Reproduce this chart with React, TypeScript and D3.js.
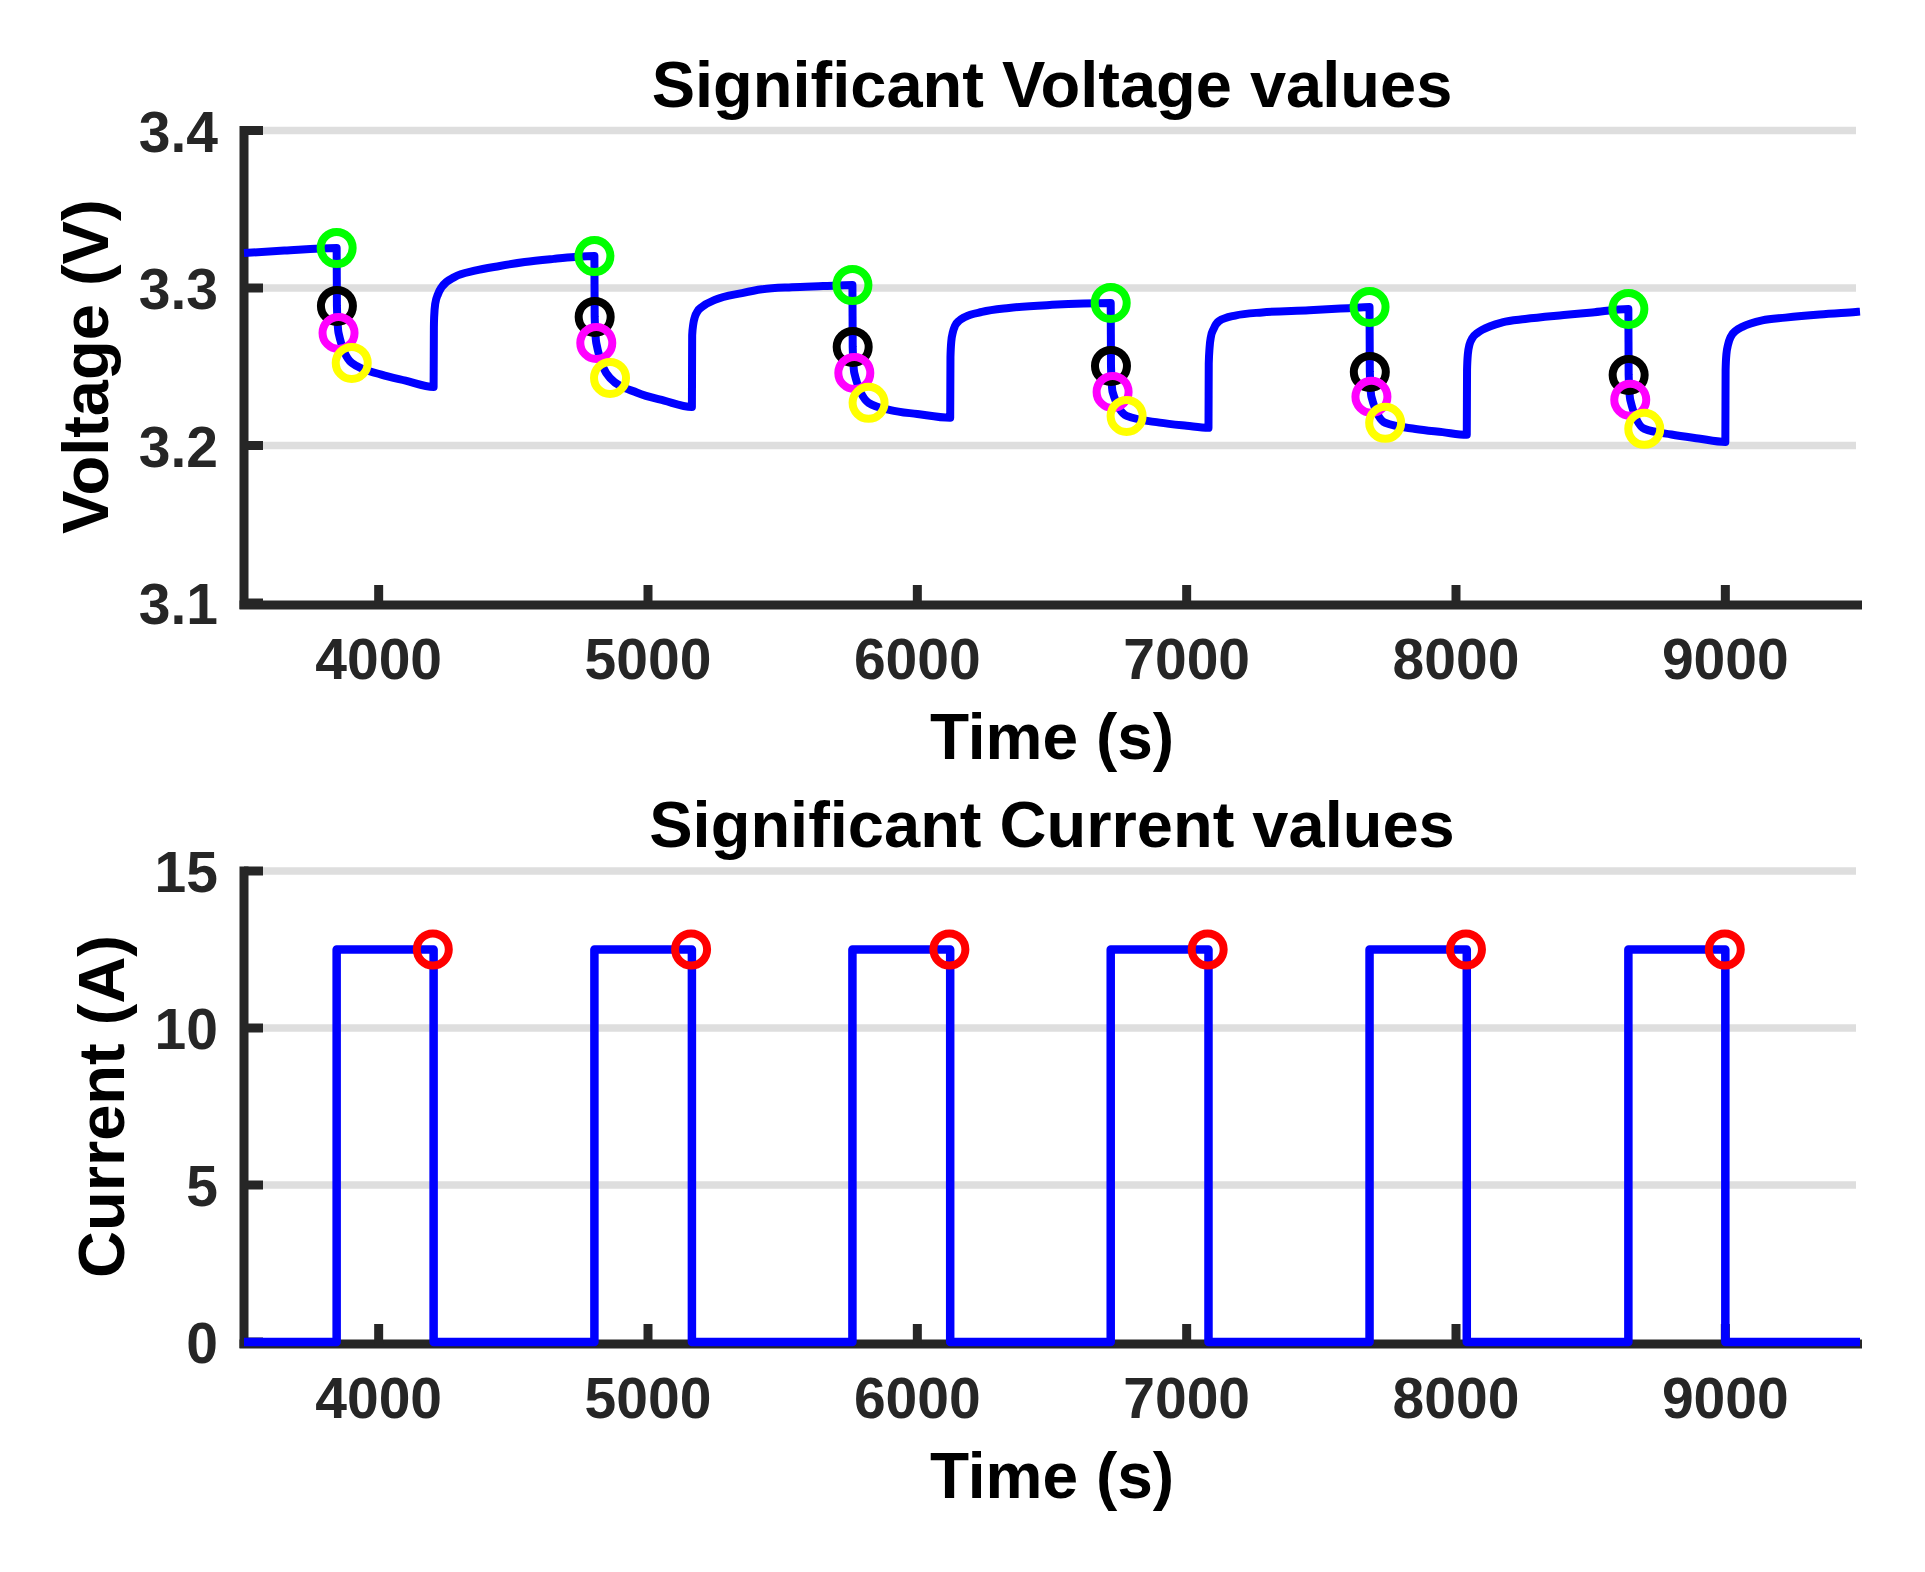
import React from "react";
import * as d3 from "d3";

// ---------- data ----------
const timeTicks = [4000, 5000, 6000, 7000, 8000, 9000];
const voltageTicks = [3.1, 3.2, 3.3, 3.4];
const currentTicks = [0, 5, 10, 15];

// voltage trace (time s, voltage V)
const voltageTime = [
  3500, 3650, 3844, 3845, 3851, 3900, 4010, 4100, 4204,
  4205, 4206, 4210, 4220, 4234, 4282, 4357, 4450, 4542, 4650, 4728, 4801,
  4802, 4808, 4859, 4960, 5060, 5163,
  5164, 5168, 5174, 5185, 5200, 5248, 5349, 5423, 5534, 5650, 5759,
  5760, 5766, 5819, 5900, 6000, 6122,
  6123, 6126, 6132, 6140, 6155, 6177, 6240, 6340, 6500, 6718,
  6719, 6725, 6777, 6900, 7000, 7081,
  7082, 7085, 7090, 7100, 7120, 7180, 7280, 7455, 7600, 7679,
  7680, 7686, 7737, 7850, 7950, 8040,
  8041, 8044, 8050, 8060, 8080, 8097, 8172, 8257, 8400, 8506, 8640,
  8641, 8647, 8699, 8800, 8900, 9000,
  9001, 9004, 9010, 9020, 9040, 9063, 9137, 9223, 9350, 9484, 9500,
];
const voltageValue = [
  3.3222, 3.3238, 3.3254, 3.2886, 3.2715, 3.2524, 3.245, 3.2412, 3.2372,
  3.275, 3.2816, 3.29, 3.296, 3.3006, 3.307, 3.311, 3.314, 3.3165, 3.3185, 3.3197, 3.3203,
  3.2816, 3.2651, 3.2429, 3.2335, 3.2285, 3.2245,
  3.27, 3.277, 3.2816, 3.2855, 3.288, 3.2924, 3.2968, 3.2992, 3.3005, 3.3012, 3.3019,
  3.2626, 3.2461, 3.2271, 3.2225, 3.22, 3.2176,
  3.256, 3.266, 3.272, 3.276, 3.2792, 3.2816, 3.2848, 3.2873, 3.2893, 3.2905,
  3.2505, 3.234, 3.2188, 3.2145, 3.2125, 3.2112,
  3.252, 3.262, 3.269, 3.274, 3.279, 3.2825, 3.2845, 3.2858, 3.2872, 3.288,
  3.2467, 3.2309, 3.2144, 3.2105, 3.2085, 3.2068,
  3.248, 3.258, 3.264, 3.268, 3.2715, 3.2734, 3.2782, 3.2803, 3.2828, 3.2845, 3.2867,
  3.2448, 3.229, 3.2106, 3.207, 3.2045, 3.2023,
  3.248, 3.258, 3.264, 3.269, 3.273, 3.2753, 3.2795, 3.2812, 3.2832, 3.2848, 3.285,
];

// significant voltage points
const greenTime = [3844, 4801, 5759, 6718, 7679, 8640];
const greenValue = [3.3254, 3.3203, 3.3019, 3.2905, 3.288, 3.2867];
const blackTime = [3845, 4802, 5760, 6719, 7680, 8641];
const blackValue = [3.2886, 3.2816, 3.2626, 3.2505, 3.2467, 3.2448];
const magentaTime = [3851, 4808, 5766, 6725, 7686, 8647];
const magentaValue = [3.2715, 3.2651, 3.2461, 3.234, 3.2309, 3.229];
const yellowTime = [3900, 4859, 5819, 6777, 7737, 8699];
const yellowValue = [3.2524, 3.2429, 3.2271, 3.2188, 3.2144, 3.2106];

// current pulses
const pulseStart = [3844, 4801, 5759, 6718, 7679, 8640];
const pulseEnd = [4204, 5163, 6122, 7081, 8040, 9000];
const pulseCurrent = [12.5, 12.5, 12.5, 12.5, 12.5, 12.5];
const redTime = [4201, 5160, 6119, 7078, 8037, 8998];
const redValue = [12.5, 12.5, 12.5, 12.5, 12.5, 12.5];

// ---------- layout ----------
const W = 1925;
const H = 1572;
const left = 244;
const right = 1860;
const top1 = 130.5;
const bottom1 = 603;
const top2 = 871;
const bottom2 = 1342;

const FONT = "'Liberation Sans', Arial, Helvetica, sans-serif";
const AX = "#262626";
const GRID = "#dedede";
const BLUE = "#0000ff";

const x = d3.scaleLinear().domain([3500, 9500]).range([left, right]);
const yV = d3.scaleLinear().domain([3.1, 3.4]).range([bottom1, top1]);
const yI = d3.scaleLinear().domain([0, 15]).range([bottom2, top2]);

type Scale = d3.ScaleLinear<number, number>;

function Axes({
  y,
  ticks,
  top,
  bottom,
  fmt,
  title,
  ylabel,
  ylabelX,
}: {
  y: Scale;
  ticks: number[];
  top: number;
  bottom: number;
  fmt: (v: number) => string;
  title: string;
  ylabel: string;
  ylabelX: number;
}) {
  return (
    <g>
      {ticks.slice(1).map((t) => (
        <line key={"g" + t} x1={left} x2={right - 4} y1={y(t)} y2={y(t)} stroke={GRID} strokeWidth={7.5} />
      ))}
      {/* axis lines */}
      <line x1={left} x2={left} y1={top - 4.5} y2={bottom + 6} stroke={AX} strokeWidth={9} />
      <line x1={left - 4.5} x2={right + 2} y1={bottom + 2} y2={bottom + 2} stroke={AX} strokeWidth={9} />
      {ticks.map((t) => (
        <line key={"yt" + t} x1={left} x2={left + 19} y1={y(t)} y2={y(t)} stroke={AX} strokeWidth={9} />
      ))}
      {timeTicks.map((t) => (
        <line key={"xt" + t} x1={x(t)} x2={x(t)} y1={bottom + 2} y2={bottom - 18} stroke={AX} strokeWidth={9} />
      ))}
      {ticks.map((t) => (
        <text
          key={"yl" + t}
          x={218}
          y={y(t) + 21}
          textAnchor="end"
          fontFamily={FONT}
          fontWeight="bold"
          fontSize={57}
          fill={AX}
        >
          {fmt(t)}
        </text>
      ))}
      {timeTicks.map((t) => (
        <text
          key={"xl" + t}
          x={x(t)}
          y={bottom + 76}
          textAnchor="middle"
          fontFamily={FONT}
          fontWeight="bold"
          fontSize={57}
          fill={AX}
        >
          {t}
        </text>
      ))}
      <text
        x={(left + right) / 2}
        y={bottom + 156}
        textAnchor="middle"
        fontFamily={FONT}
        fontWeight="bold"
        fontSize={64}
        fill="#000"
      >
        Time (s)
      </text>
      <text
        x={(left + right) / 2}
        y={top - 24}
        textAnchor="middle"
        fontFamily={FONT}
        fontWeight="bold"
        fontSize={65}
        fill="#000"
      >
        {title}
      </text>
      <text
        transform={`translate(${ylabelX},${(top + bottom) / 2}) rotate(-90)`}
        textAnchor="middle"
        fontFamily={FONT}
        fontWeight="bold"
        fontSize={65}
        fill="#000"
      >
        {ylabel}
      </text>
    </g>
  );
}

function Markers({ ts, vs, y, color }: { ts: number[]; vs: number[]; y: Scale; color: string }) {
  return (
    <g>
      {ts.map((t, i) => (
        <circle key={i} cx={x(t)} cy={y(vs[i])} r={16} fill="none" stroke={color} strokeWidth={8} />
      ))}
    </g>
  );
}

export default function App() {
  const vPts: [number, number][] = voltageTime.map((t, i) => [t, voltageValue[i]]);
  const vLine = d3
    .line<[number, number]>()
    .x((d) => x(d[0]))
    .y((d) => yV(d[1]))
    .curve(d3.curveMonotoneX);

  const iPts: [number, number][] = [[3500, 0]];
  pulseStart.forEach((s, k) => {
    iPts.push([s, 0], [s, pulseCurrent[k]], [pulseEnd[k], pulseCurrent[k]], [pulseEnd[k], 0]);
  });
  iPts.push([9500, 0]);
  const iLine = d3
    .line<[number, number]>()
    .x((d) => x(d[0]))
    .y((d) => yI(d[1]));

  return (
    <div style={{ position: "absolute", left: 0, top: 0, width: W, height: H, background: "#fff" }}>
      <svg width={W} height={H} viewBox={`0 0 ${W} ${H}`} style={{ display: "block" }}>
        <rect width={W} height={H} fill="#fff" />
        <Axes
          y={yV}
          ticks={voltageTicks}
          top={top1}
          bottom={bottom1}
          fmt={(v) => v.toFixed(1)}
          title="Significant Voltage values"
          ylabel="Voltage (V)"
          ylabelX={108}
        />
        <Axes
          y={yI}
          ticks={currentTicks}
          top={top2}
          bottom={bottom2}
          fmt={(v) => String(v)}
          title="Significant Current values"
          ylabel="Current (A)"
          ylabelX={124}
        />
        <path d={vLine(vPts) || ""} fill="none" stroke={BLUE} strokeWidth={8} strokeLinejoin="round" />
        <path d={iLine(iPts) || ""} fill="none" stroke={BLUE} strokeWidth={8.5} strokeLinejoin="round" />
        <Markers ts={greenTime} vs={greenValue} y={yV} color="#00ff00" />
        <Markers ts={blackTime} vs={blackValue} y={yV} color="#000000" />
        <Markers ts={magentaTime} vs={magentaValue} y={yV} color="#ff00ff" />
        <Markers ts={yellowTime} vs={yellowValue} y={yV} color="#ffff00" />
        <Markers ts={redTime} vs={redValue} y={yI} color="#ff0000" />
      </svg>
    </div>
  );
}
